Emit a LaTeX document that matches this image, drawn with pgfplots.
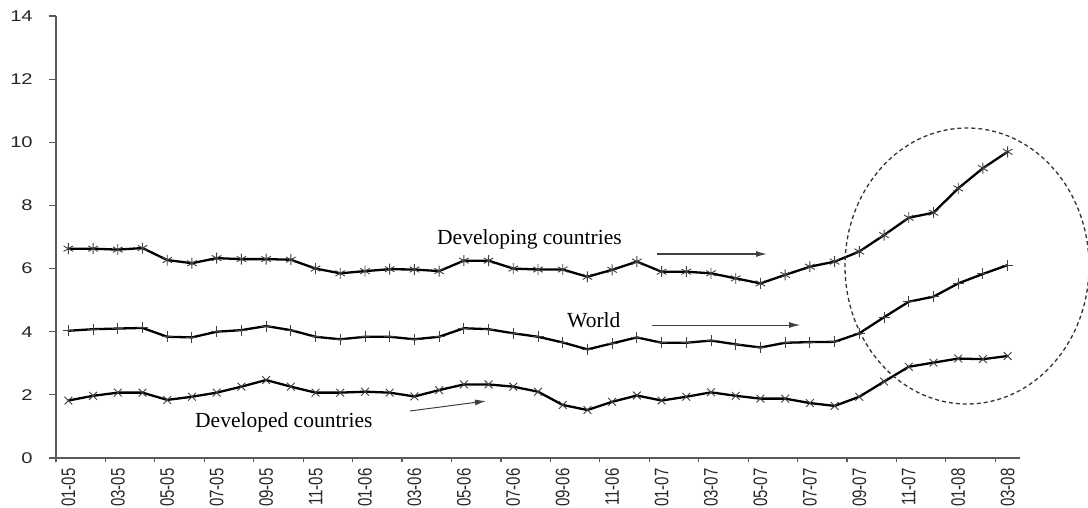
\documentclass[border=0pt]{standalone}
\usepackage{pgfplots}
\pgfplotsset{compat=1.18}
\usepackage{fontspec}
\setmainfont{Liberation Serif}
\newfontfamily\arialf{Liberation Sans}
\usetikzlibrary{arrows.meta}

\pgfplotstableread{
i dev wld dvd
0 6.63 4.03 1.82
1 6.63 4.08 1.97
2 6.60 4.10 2.07
3 6.65 4.12 2.07
4 6.27 3.84 1.84
5 6.17 3.82 1.94
6 6.33 4.00 2.07
7 6.30 4.05 2.26
8 6.30 4.18 2.47
9 6.28 4.05 2.26
10 6.00 3.84 2.07
11 5.85 3.76 2.07
12 5.92 3.84 2.10
13 5.98 3.84 2.07
14 5.97 3.76 1.95
15 5.92 3.84 2.15
16 6.25 4.11 2.33
17 6.25 4.08 2.33
18 6.00 3.95 2.26
19 5.97 3.84 2.10
20 5.97 3.66 1.68
21 5.74 3.44 1.52
22 5.96 3.63 1.78
23 6.22 3.82 1.98
24 5.90 3.65 1.82
25 5.90 3.65 1.94
26 5.85 3.72 2.08
27 5.69 3.60 1.97
28 5.53 3.50 1.88
29 5.80 3.65 1.88
30 6.06 3.67 1.74
31 6.22 3.68 1.65
32 6.54 3.95 1.94
33 7.06 4.46 2.42
34 7.61 4.95 2.89
35 7.77 5.11 3.02
36 8.54 5.53 3.15
37 9.18 5.83 3.13
38 9.70 6.11 3.23
}\datatable

\begin{document}
\begin{tikzpicture}
\useasboundingbox (0pt,0pt) rectangle (1088pt,507pt);
\begin{axis}[
  at={(56pt,49pt)}, anchor=south west,
  scale only axis, width=964pt, height=442pt,
  xmin=-0.5, xmax=38.5, ymin=0, ymax=14,
  axis x line*=bottom, axis y line*=left,
  axis line style={-, draw=black!65, line width=1.3pt},
  clip=false,
  ytick={0,2,...,14},
  xtick={0,2,...,38},
  xticklabels={01-05,03-05,05-05,07-05,09-05,11-05,01-06,03-06,05-06,07-06,09-06,11-06,01-07,03-07,05-07,07-07,09-07,11-07,01-08,03-08},
  minor xtick={-0.5,1.5,...,37.5},
  tick align=outside,
  major tick length=7pt,
  minor tick length=4pt,
  major x tick style={draw=none},
  minor x tick style={draw=black!65, line width=1.2pt},
  major y tick style={draw=black!65, line width=1.2pt},
  /pgf/number format/assume math mode=true,
  yticklabel style={font=\arialf\fontsize{15.5}{15.5}\selectfont, xscale=1.3, anchor=east, xshift=-9pt, text=black!85},
  xticklabel style={font=\arialf\fontsize{15}{15}\selectfont, rotate=90, yscale=1.3, anchor=east, text=black!85},
  every axis plot/.append style={black, line width=2.3pt},
]
\addplot[mark=asterisk, mark size=5.5pt, mark options={line width=0.9pt, black!75}] table[x=i, y=dev] {\datatable};
\addplot[mark=+, mark size=5.5pt, mark options={line width=0.9pt, black!75}] table[x=i, y=wld] {\datatable};
\addplot[mark=x, mark size=5.5pt, mark options={line width=0.9pt, black!75}] table[x=i, y=dvd] {\datatable};
\end{axis}
\node[anchor=base west, inner sep=0pt, font=\fontsize{21.5}{24}\selectfont] at (437pt,262pt) {Developing countries};
\node[anchor=base west, inner sep=0pt, font=\fontsize{21.5}{24}\selectfont] at (567pt,180pt) {World};
\node[anchor=base west, inner sep=0pt, font=\fontsize{21.5}{24}\selectfont] at (195pt,80pt) {Developed countries};
\draw[black!75, line width=1.3pt, -{Latex[length=11pt,width=6pt]}] (657pt,253pt) -- (767pt,253pt);
\draw[black!75, line width=0.8pt, -{Latex[length=11pt,width=6pt]}] (652pt,182pt) -- (800pt,182pt);
\draw[black!75, line width=1.0pt, -{Latex[length=11pt,width=6pt]}] (410pt,96pt) -- (486pt,106pt);
\draw[black!80, line width=1.3pt, dash pattern=on 4pt off 3pt] (967pt,241pt) ellipse [x radius=122pt, y radius=138pt];
\end{tikzpicture}
\end{document}
